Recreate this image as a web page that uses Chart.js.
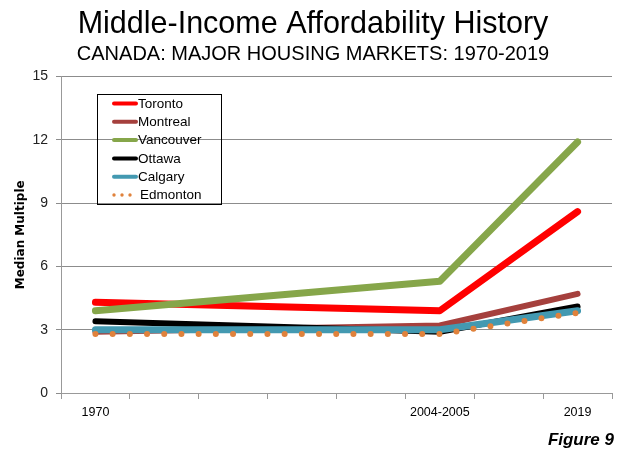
<!DOCTYPE html>
<html>
<head>
<meta charset="utf-8">
<script src="https://cdn.jsdelivr.net/npm/chart.js@4"></script>
<style>
  html, body { margin: 0; padding: 0; background: #fff; }
  #wrap { width: 622px; height: 452px; position: relative; }
</style>
</head>
<body>
<div id="wrap"><canvas id="chart"></canvas></div>
<script>
'use strict';

// ─── Data ────────────────────────────────────────────────────────────────────
const categories = ['1970', '', '', '', '', '2004-2005', '', '2019'];
const toronto    = [4.3, null, null, null, null, 3.9, null, 8.6];
const montreal   = [2.9, null, null, null, null, 3.2, null, 4.7];
const vancouver  = [3.9, null, null, null, null, 5.3, null, 11.9];
const ottawa     = [3.4, null, null, null, null, 2.9, null, 4.1];
const calgary    = [3.0, null, null, null, null, 3.0, null, 3.9];
const edmonton   = [2.8, null, null, null, null, 2.8, null, 3.8];
const yTicks     = [0, 3, 6, 9, 12, 15];

const FONT = "'Liberation Sans', Arial, sans-serif";

function series(label, data, color, width, dashed) {
  return {
    label,
    data,
    borderColor:      color,
    backgroundColor:  color,
    borderWidth:      width,
    borderCapStyle:   'round',
    borderJoinStyle:  'round',
    borderDash:       dashed ? [0, 17.2] : [],
    pointRadius:      0,
    spanGaps:         true,
    tension:          0,
  };
}

const datasets = [
  series('Toronto',   toronto,   '#ff0000', 7),
  series('Montreal',  montreal,  '#a5403d', 6),
  series('Vancouver', vancouver, '#86a64a', 7),
  series('Ottawa',    ottawa,    '#000000', 6),
  series('Calgary',   calgary,   '#4399b1', 7),
  series('Edmonton',  edmonton,  '#e0823c', 6, true),
];
// later series painted on top
datasets.forEach((d, i) => { d.order = datasets.length - i; });

// ─── Legend box + figure caption ─────────────────────────────────────────────
const overlayPlugin = {
  id: 'overlay',
  afterDraw(chart) {
    const ctx = chart.ctx;
    ctx.save();

    // legend frame
    ctx.strokeStyle = '#000';
    ctx.lineWidth = 1;
    ctx.strokeRect(97.5, 94.5, 124, 110);

    ctx.font = '13.5px ' + FONT;
    ctx.textBaseline = 'middle';
    chart.data.datasets.forEach((ds, i) => {
      const y = 103.5 + i * 18.3;
      if (ds.borderDash.length) {
        ctx.fillStyle = ds.borderColor;
        [114, 122, 130].forEach(x => {
          ctx.beginPath();
          ctx.arc(x, y, 1.7, 0, Math.PI * 2);
          ctx.fill();
        });
      } else {
        ctx.strokeStyle = ds.borderColor;
        ctx.lineWidth = 4;
        ctx.lineCap = 'round';
        ctx.beginPath();
        ctx.moveTo(114, y);
        ctx.lineTo(136, y);
        ctx.stroke();
      }
      ctx.fillStyle = '#000';
      ctx.fillText(ds.label, ds.borderDash.length ? 140 : 138, y + 0.5);
    });

    ctx.font = 'italic bold 17px ' + FONT;
    ctx.textAlign = 'right';
    ctx.fillStyle = '#000';
    ctx.fillText('Figure 9', 614, 440);
    ctx.restore();
  },
};

// ─── Chart ───────────────────────────────────────────────────────────────────
new Chart(document.getElementById('chart'), {
  type: 'line',
  data: { labels: categories, datasets },
  plugins: [overlayPlugin],
  options: {
    responsive: true,
    maintainAspectRatio: false,
    animation: false,
    layout: { padding: { top: 6, left: 14, right: 10, bottom: 0 } },
    plugins: {
      legend:  { display: false },
      tooltip: { enabled: false },
      title: {
        display: true,
        text: 'Middle-Income Affordability History',
        color: '#000',
        font: { family: FONT, size: 30.5, weight: 'normal', lineHeight: 1.2 },
        padding: { top: 0, bottom: 0 },
      },
      subtitle: {
        display: true,
        text: 'CANADA: MAJOR HOUSING MARKETS: 1970-2019',
        color: '#000',
        font: { family: FONT, size: 20, weight: 'normal', lineHeight: 1.2 },
        padding: { top: 0, bottom: 10 },
      },
    },
    scales: {
      x: {
        type: 'category',
        offset: true,
        grid: {
          offset: true,
          drawOnChartArea: false,
          drawTicks: true,
          tickLength: 6,
          color: '#999',
        },
        border: { color: '#999', width: 1 },
        ticks: {
          autoSkip: false,
          maxRotation: 0,
          padding: 6,
          color: '#000',
          font: { family: FONT, size: 12.5 },
        },
        afterFit(scale) { scale.height = 59; },
      },
      y: {
        min: 0,
        max: 15,
        afterBuildTicks(scale) { scale.ticks = yTicks.map(v => ({ value: v })); },
        grid: { color: '#8c8c8c', tickLength: 5 },
        border: { color: '#999', width: 1 },
        ticks: {
          padding: 8,
          color: '#222',
          font: { family: FONT, size: 14 },
        },
        title: {
          display: true,
          text: 'Median Multiple',
          color: '#000',
          font: { family: "'DejaVu Sans', sans-serif", size: 12, weight: 'bold' },
          padding: { top: 0, bottom: 0 },
        },
        afterFit(scale) { scale.width = 47; },
      },
    },
  },
});
</script>
</body>
</html>
